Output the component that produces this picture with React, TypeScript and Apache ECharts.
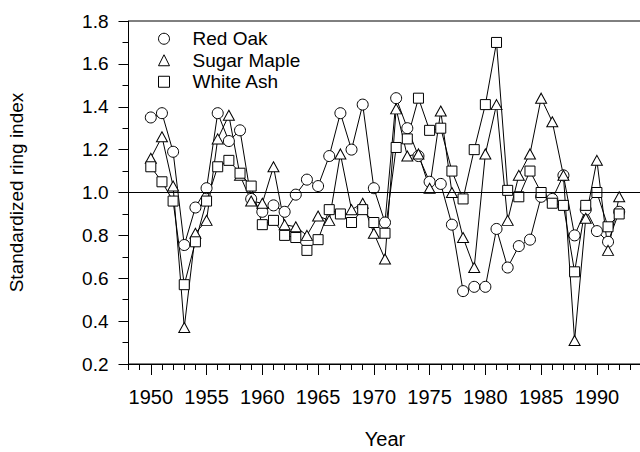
import React, { useEffect, useRef } from "react";
import * as echarts from "echarts";

const years: number[] = [
  1950, 1951, 1952, 1953, 1954, 1955, 1956, 1957, 1958, 1959,
  1960, 1961, 1962, 1963, 1964, 1965, 1966, 1967, 1968, 1969,
  1970, 1971, 1972, 1973, 1974, 1975, 1976, 1977, 1978, 1979,
  1980, 1981, 1982, 1983, 1984, 1985, 1986, 1987, 1988, 1989,
  1990, 1991, 1992,
];

const redOak: number[] = [
  1.35, 1.37, 1.19, 0.755, 0.93, 1.02, 1.37, 1.24, 1.29, 0.97,
  0.91, 0.94, 0.91, 0.99, 1.06, 1.03, 1.17, 1.37, 1.2, 1.41,
  1.02, 0.86, 1.44, 1.3, 1.17, 1.05, 1.04, 0.85, 0.54, 0.56,
  0.56, 0.83, 0.65, 0.75, 0.78, 0.98, 0.97, 1.08, 0.8, 0.92,
  0.82, 0.77, 0.91,
];

const sugarMaple: number[] = [
  1.16, 1.26, 1.03, 0.37, 0.81, 0.87, 1.25, 1.36, 1.08, 0.96,
  0.95, 1.12, 0.85, 0.84, 0.8, 0.89, 0.87, 1.18, 0.92, 0.95,
  0.81, 0.69, 1.39, 1.17, 1.18, 1.02, 1.38, 1.0, 0.79, 0.65,
  1.18, 1.41, 0.87, 1.08, 1.18, 1.44, 1.33, 1.08, 0.31, 0.88,
  1.15, 0.73, 0.98,
];

const whiteAsh: number[] = [
  1.12, 1.05, 0.96, 0.57, 0.77, 0.96, 1.12, 1.15, 1.09, 1.03,
  0.85, 0.87, 0.8, 0.79, 0.73, 0.78, 0.92, 0.9, 0.86, 0.92,
  0.86, 0.81, 1.21, 1.25, 1.44, 1.29, 1.3, 1.1, 0.97, 1.2,
  1.41, 1.7, 1.01, 0.98, 1.1, 1.0, 0.95, 0.94, 0.63, 0.94,
  1.0, 0.84, 0.9,
];

const majorYears: number[] = [1950, 1955, 1960, 1965, 1970, 1975, 1980, 1985, 1990];

const FONT = "'Liberation Sans', Arial, Helvetica, sans-serif";

export default function App() {
  const ref = useRef<HTMLDivElement>(null);

  useEffect(() => {
    if (!ref.current) return;
    const chart = echarts.init(ref.current, null, { renderer: "svg" });

    const pairs = (vals: number[]) => years.map((y, i) => [y, vals[i]]);

    const markerStyle = { color: "#fff", borderColor: "#000", borderWidth: 1, opacity: 1 };
    const line = { color: "#000", width: 1 };

    const xBase = {
      type: "value" as const,
      min: 1948,
      max: 1994,
      position: "bottom" as const,
      splitLine: { show: false },
    };

    chart.setOption({
      animation: false,
      backgroundColor: "#fff",
      textStyle: { fontFamily: FONT },
      grid: {
        left: 128.5,
        top: 21,
        width: 513,
        height: 343,
        containLabel: false,
        outerBoundsMode: "none",
        show: true,
        borderColor: "#000",
        borderWidth: 1,
        backgroundColor: "transparent",
      },
      legend: {
        orient: "vertical",
        left: 153,
        top: 23,
        itemWidth: 11,
        itemHeight: 11,
        itemGap: 0,
        selectedMode: false,
        itemStyle: { color: "#fff", borderColor: "#000", borderWidth: 1 },
        textStyle: {
          fontFamily: FONT,
          fontSize: 19,
          color: "#000",
          lineHeight: 21.5,
          padding: [0, 0, 0, 18],
        },
        data: [
          { name: "Red Oak", icon: "circle" },
          { name: "Sugar Maple", icon: "triangle" },
          { name: "White Ash", icon: "rect" },
        ],
      },
      xAxis: [
        {
          ...xBase,
          interval: 1,
          name: "Year",
          nameLocation: "middle",
          nameGap: 65,
          nameTextStyle: { fontFamily: FONT, fontSize: 20, color: "#000" },
          axisLine: { show: true, lineStyle: { color: "#000", width: 1 } },
          axisTick: { show: true, length: 6, lineStyle: { color: "#000", width: 1 } },
          axisLabel: {
            show: true,
            customValues: majorYears,
            margin: 23,
            fontFamily: FONT,
            fontSize: 20,
            color: "#000",
            formatter: (v: number) => String(v),
          },
        },
        {
          ...xBase,
          interval: 1,
          axisLine: { show: false },
          axisTick: {
            show: true,
            length: 11,
            customValues: majorYears,
            lineStyle: { color: "#000", width: 1 },
          },
          axisLabel: { show: false },
        },
      ],
      yAxis: {
        type: "value",
        min: 0.2,
        max: 1.8,
        interval: 0.2,
        name: "Standardized ring index",
        nameLocation: "middle",
        nameGap: 103,
        nameTextStyle: { fontFamily: FONT, fontSize: 19, color: "#000" },
        axisLine: { show: true, lineStyle: { color: "#000", width: 1 } },
        axisTick: { show: true, length: 10, lineStyle: { color: "#000", width: 1 } },
        minorTick: { show: true, splitNumber: 2, length: 6, lineStyle: { color: "#000", width: 1 } },
        splitLine: { show: false },
        minorSplitLine: { show: false },
        axisLabel: {
          margin: 20,
          fontFamily: FONT,
          fontSize: 19,
          color: "#000",
          formatter: (v: number) => v.toFixed(1),
        },
      },
      series: [
        {
          name: "Red Oak",
          type: "line",
          xAxisIndex: 0,
          data: pairs(redOak),
          symbol: "circle",
          symbolSize: 11,
          showAllSymbol: true,
          itemStyle: markerStyle,
          lineStyle: line,
          markLine: {
            silent: true,
            symbol: ["none", "none"],
            label: { show: false },
            lineStyle: { color: "#000", width: 1, type: "solid" },
            data: [{ yAxis: 1 }],
          },
        },
        {
          name: "Sugar Maple",
          type: "line",
          xAxisIndex: 0,
          data: pairs(sugarMaple),
          symbol: "triangle",
          symbolSize: [11, 10],
          showAllSymbol: true,
          itemStyle: markerStyle,
          lineStyle: line,
        },
        {
          name: "White Ash",
          type: "line",
          xAxisIndex: 0,
          data: pairs(whiteAsh),
          symbol: "rect",
          symbolSize: 10,
          showAllSymbol: true,
          itemStyle: markerStyle,
          lineStyle: line,
        },
      ],
    });

    return () => chart.dispose();
  }, []);

  return (
    <div
      ref={ref}
      style={{ position: "absolute", left: 0, top: 0, width: 640, height: 452, background: "#fff" }}
    />
  );
}
